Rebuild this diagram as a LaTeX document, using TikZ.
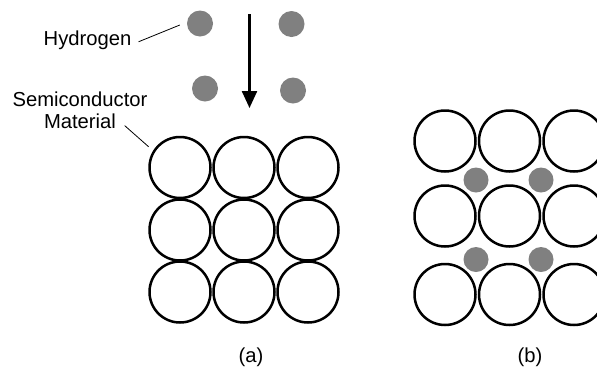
\documentclass[tikz,border=0pt]{standalone}
\usepackage{fontspec}
\setmainfont{Liberation Sans}
\usetikzlibrary{arrows.meta}
\definecolor{hgray}{RGB}{128,128,128}

\begin{document}
\begin{tikzpicture}
[x=1bp,y=-1bp,
  lineDecorate/.style={-,line width=0.8bp},%
  atomDecorate/.style={shape=circle,inner sep=0pt,minimum size=61bp,draw,line width=2.5bp},
  hydroDecorate/.style={shape=circle,inner sep=0pt,minimum size=26bp,fill=hgray},
  fallDecorate/.style={-{Triangle[width=15bp,length=17bp]},line width=2.4bp},
  textDecorate/.style={inner sep=0pt,font=\fontsize{20.3}{22}\selectfont}]
\useasboundingbox (0,0) rectangle (597,371);
%% hydrogen above the material
\foreach \nodename/\x/\y in {
  h1/200/23.5, h2/291.5/24, h3/205/88.5, h4/293/90.5}
{
  \node (\nodename) at (\x,\y) [hydroDecorate] {};
}
\coordinate (falltop) at (249.5,14);
\coordinate (falltip) at (249.5,108);
\draw[fallDecorate] (falltop) -- (falltip);
%% material before (a)
\foreach \nodename/\x/\y in {
  a11/180/167.5, a12/244/167.5, a13/308/167.5,
  a21/180/230,   a22/244/230,   a23/308/230,
  a31/180/292,   a32/244/292,   a33/308/292}
{
  \node (\nodename) at (\x,\y) [atomDecorate] {};
}
%% material after (b)
\foreach \nodename/\x/\y in {
  b11/445/141,   b12/509.5/141,   b13/574/141,
  b21/445/216,   b22/509.5/216,   b23/574/216,
  b31/445/294.5, b32/509.5/294.5, b33/574/294.5}
{
  \node (\nodename) at (\x,\y) [atomDecorate] {};
}
\foreach \nodename/\x/\y in {
  g1/476/180, g2/541/180, g3/476/259.5, g4/541/259.5}
{
  \node (\nodename) at (\x,\y) [hydroDecorate,minimum size=25bp] {};
}
%% labels
\node (hlab) at (87.5,45) [textDecorate,anchor=base] {Hydrogen};
\node (semi) at (80,110) [textDecorate,align=center] {Semiconductor\\Material};
\node (capa) at (251,357) [textDecorate] {(a)};
\node (capb) at (530,357) [textDecorate] {(b)};
\draw[lineDecorate] ([xshift=7bp,yshift=-2bp]hlab.east) -- ([xshift=-7bp,yshift=-1.5bp]h1.west);
\draw[lineDecorate,shorten >=6bp] ([xshift=-23bp,yshift=3bp]semi.south east) -- (a11.148);
\end{tikzpicture}
\end{document}
